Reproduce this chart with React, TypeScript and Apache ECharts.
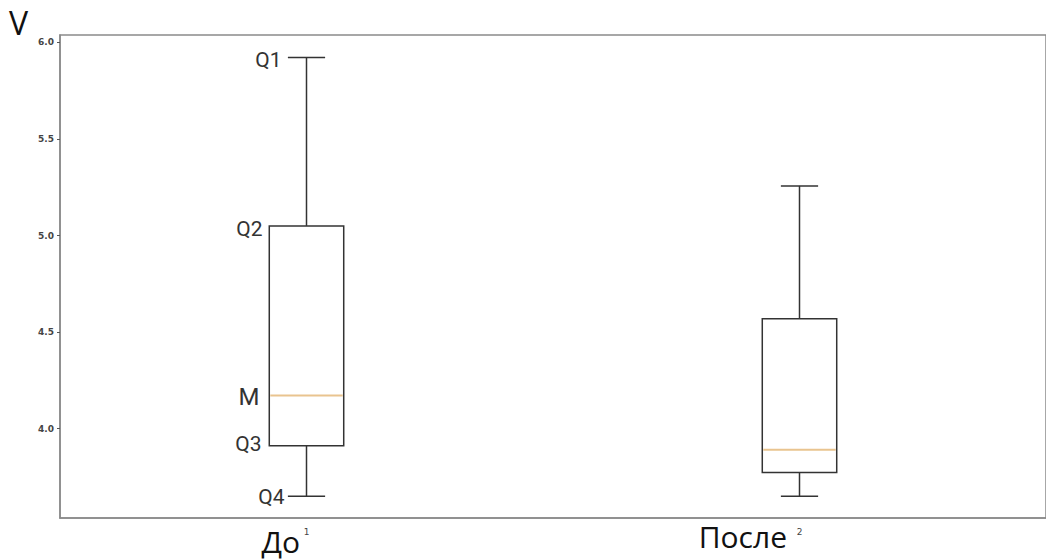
import React, { useEffect, useRef } from "react";
import * as echarts from "echarts";

// ---- data ----
const categories = ["1", "2"];
const groupNames = ["До", "После"];
const whiskerHigh = [5.922, 5.257];
const boxHigh = [5.05, 4.569];
const median = [4.172, 3.891];
const boxLow = [3.912, 3.774];
const whiskerLow = [3.65, 3.65];
const annotationNames = ["Q1", "Q2", "M", "Q3", "Q4"];
const yTicks = [4.0, 4.5, 5.0, 5.5, 6.0];

const EDGE = "#333333";
const MEDIAN = "#e9c48f";
const AXIS = "#8a8a8a";

export default function App() {
  const ref = useRef<HTMLDivElement>(null);

  useEffect(() => {
    if (!ref.current) return;
    const chart = echarts.init(ref.current, null, { renderer: "svg" });

    const seriesData = categories.map((c, i) => [
      i,
      whiskerLow[i],
      boxLow[i],
      median[i],
      boxHigh[i],
      whiskerHigh[i],
    ]);

    // offsets for annotation labels (x from box centre, y nudge)
    const annDx = [-25, -44, -47, -45, -22];
    const annDy = [3, 3, 1, -2, 1];
    const annSize = [21, 21, 24, 21, 21];

    const renderItem = (params: any, api: any) => {
      const i = api.value(0);
      const vals = [api.value(5), api.value(4), api.value(3), api.value(2), api.value(1)];
      const pts = vals.map((v: number) => api.coord([i, v]));
      const cx = pts[0][0];
      const band = api.size([1, 0])[0];
      const w = band * 0.151;
      const yHi = pts[0][1];
      const yBoxHi = pts[1][1];
      const yMed = pts[2][1];
      const yBoxLo = pts[3][1];
      const yLo = pts[4][1];
      const lineStyle = { stroke: EDGE, lineWidth: 1.5, fill: null };
      const children: any[] = [
        { type: "line", shape: { x1: cx, y1: yHi, x2: cx, y2: yBoxHi }, style: lineStyle },
        { type: "line", shape: { x1: cx - w / 4, y1: yHi, x2: cx + w / 4, y2: yHi }, style: lineStyle },
        { type: "line", shape: { x1: cx, y1: yBoxLo, x2: cx, y2: yLo }, style: lineStyle },
        { type: "line", shape: { x1: cx - w / 4, y1: yLo, x2: cx + w / 4, y2: yLo }, style: lineStyle },
        {
          type: "rect",
          shape: { x: cx - w / 2, y: yBoxHi, width: w, height: yBoxLo - yBoxHi },
          style: { stroke: EDGE, lineWidth: 1.5, fill: "none" },
        },
        {
          type: "line",
          shape: { x1: cx - w / 2 + 1, y1: yMed, x2: cx + w / 2 - 1, y2: yMed },
          style: { stroke: MEDIAN, lineWidth: 2 },
        },
      ];
      if (params.dataIndex === 0) {
        annotationNames.forEach((name, k) => {
          children.push({
            type: "text",
            x: cx + annDx[k],
            y: pts[k][1] + annDy[k],
            style: {
              text: name,
              fill: "#333",
              fontSize: annSize[k],
              fontFamily: "Roboto",
              align: "right",
              verticalAlign: "middle",
            },
          });
        });
      }
      return { type: "group", children };
    };

    chart.setOption({
      animation: false,
      backgroundColor: "#ffffff",
      grid: {
        left: 60,
        top: 35,
        right: -4,
        bottom: 42,
        show: true,
        borderColor: AXIS,
        borderWidth: 1.5,
        backgroundColor: "transparent",
      },
      xAxis: {
        type: "category",
        data: categories,
        boundaryGap: true,
        axisLine: { lineStyle: { color: AXIS, width: 1.5 } },
        axisTick: { alignWithLabel: true, length: 3, lineStyle: { color: "#555" } },
        axisLabel: { fontSize: 9, color: "#444", margin: 9, fontFamily: "DejaVu Sans" },
        splitLine: { show: false },
      },
      yAxis: {
        type: "value",
        min: 3.538,
        max: 6.038,
        axisLine: { show: true, lineStyle: { color: AXIS, width: 1.5 } },
        axisTick: { show: true, length: 3, customValues: yTicks, lineStyle: { color: "#555" } },
        axisLabel: {
          customValues: yTicks,
          formatter: (v: number) => v.toFixed(1),
          fontSize: 9,
          color: "#444",
          margin: 6,
          fontFamily: "DejaVu Sans",
          fontWeight: "bold",
        },
        splitLine: { show: false },
      },
      graphic: [
        {
          type: "text",
          left: 9,
          top: 6,
          style: { text: "V", fontSize: 32, fontFamily: "Open Sans", fill: "#111" },
        },
        {
          type: "text",
          x: 300,
          y: 541,
          style: {
            text: groupNames[0],
            fontSize: 30,
            fontFamily: "Open Sans",
            fill: "#111",
            align: "right",
            verticalAlign: "middle",
          },
        },
        {
          type: "text",
          x: 787,
          y: 536,
          style: {
            text: groupNames[1],
            fontSize: 30,
            fontFamily: "Open Sans",
            fill: "#111",
            align: "right",
            verticalAlign: "middle",
          },
        },
      ],
      series: [
        {
          type: "custom",
          renderItem,
          data: seriesData,
          encode: { x: 0, y: [1, 2, 3, 4, 5] },
          clip: false,
        },
      ],
    });

    return () => chart.dispose();
  }, []);

  return (
    <div
      ref={ref}
      style={{ position: "absolute", left: 0, top: 0, width: 1046, height: 560, background: "#fff" }}
    />
  );
}
